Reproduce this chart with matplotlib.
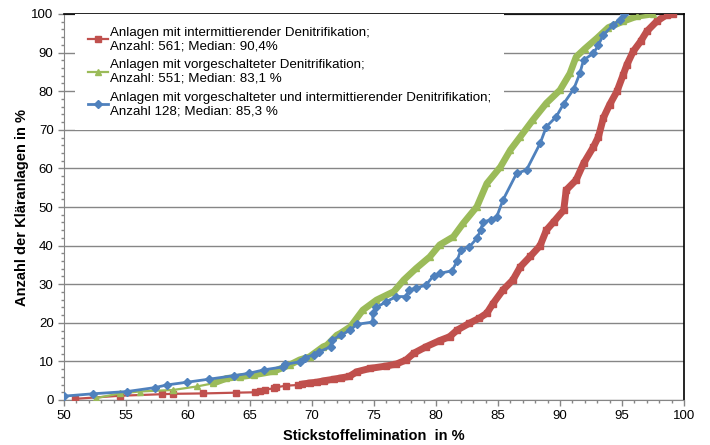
import matplotlib
matplotlib.use("Agg")
import matplotlib.pyplot as plt
from matplotlib.ticker import MultipleLocator

# (Stickstoffelimination in %, cumulative share in %)
x_int = [50.9, 54.5, 57.9, 58.8, 61.2, 63.9, 65.4, 65.8, 66.2, 66.9, 67.1, 67.9,
         68.9, 69.2, 69.8, 70.4, 71.0, 71.8, 72.3, 73.0, 73.6, 74.7, 76.0, 76.8,
         77.6, 78.2, 79.2, 80.3, 81.1, 81.7, 82.7, 83.5, 84.1, 84.6, 85.4, 86.2,
         86.8, 87.6, 88.4, 88.9, 89.5, 90.3, 90.5, 91.3, 91.9, 92.7, 93.1, 93.5,
         94.0, 94.6, 95.1, 95.4, 95.9, 96.5, 97.0, 97.8, 98.6, 99.1]
y_int = [0.3, 1.1, 1.5, 1.6, 1.7, 1.9, 2.0, 2.4, 2.7, 3.0, 3.3, 3.7,
         3.9, 4.1, 4.4, 4.6, 5.0, 5.4, 5.7, 6.1, 7.3, 8.2, 8.8, 9.3,
         10.4, 12.1, 13.8, 15.4, 16.4, 18.1, 19.9, 21.2, 22.5, 25.0, 28.5, 31.1,
         34.5, 37.2, 40.0, 44.0, 46.2, 49.2, 54.4, 57.0, 61.3, 65.6, 68.2, 73.1,
         76.5, 80.0, 84.3, 86.9, 90.3, 92.9, 95.5, 98.1, 99.8, 100.0]

x_vor = [52.6, 54.5, 56.1, 58.8, 60.7, 62.0, 63.1, 64.2, 65.3, 66.9, 68.2, 69.0,
         69.8, 70.9, 71.2, 72.0, 72.3, 73.1, 74.1, 75.2, 76.6, 77.4, 78.4, 79.5,
         80.3, 81.4, 82.2, 83.3, 84.1, 85.2, 86.0, 86.8, 87.8, 88.9, 90.0, 90.8,
         91.3, 92.0, 93.0, 93.9, 95.1, 96.2, 97.5]
y_vor = [0.5, 1.7, 2.2, 2.6, 3.5, 4.3, 5.6, 6.0, 6.5, 7.4, 9.1, 10.4,
         11.2, 13.8, 14.2, 16.8, 17.3, 19.0, 23.3, 25.9, 28.1, 31.1, 34.1, 37.1,
         40.2, 42.3, 45.8, 50.1, 56.1, 60.4, 64.8, 68.2, 72.5, 76.9, 80.3, 84.6,
         88.9, 91.0, 93.8, 96.5, 98.1, 99.4, 100.0]

x_both = [50.0, 52.3, 55.1, 57.3, 58.3, 59.9, 61.7, 63.7, 64.9, 66.1, 67.7, 67.8,
          69.0, 69.4, 70.2, 70.6, 71.5, 71.6, 72.3, 73.1, 73.6, 74.9, 74.9, 75.2,
          76.0, 76.8, 77.6, 77.8, 78.4, 79.2, 79.8, 80.3, 81.3, 81.7, 82.0, 82.7,
          83.3, 83.6, 83.8, 84.4, 84.9, 85.4, 86.5, 87.3, 88.4, 88.9, 89.7, 90.3,
          91.1, 91.6, 91.9, 92.7, 93.1, 93.5, 94.3, 94.8, 95.2]
y_both = [1.0, 1.6, 2.2, 3.2, 3.9, 4.6, 5.4, 6.3, 6.9, 7.8, 8.6, 9.2,
          9.9, 11.0, 11.7, 12.5, 13.8, 15.5, 16.8, 18.1, 19.6, 20.2, 22.5, 24.0,
          25.5, 26.8, 26.8, 28.5, 29.0, 29.8, 32.2, 32.8, 33.5, 36.0, 38.9, 39.7,
          41.9, 44.0, 46.2, 46.6, 47.5, 51.8, 58.7, 59.6, 66.5, 70.8, 73.4, 76.8,
          80.5, 84.6, 88.1, 89.8, 92.0, 94.6, 97.2, 98.4, 100.0]

labels = ["Anlagen mit intermittierender Denitrifikation;\nAnzahl: 561; Median: 90,4%",
          "Anlagen mit vorgeschalteter Denitrifikation;\nAnzahl: 551; Median: 83,1 %",
          "Anlagen mit vorgeschalteter und intermittierender Denitrifikation;\nAnzahl 128; Median: 85,3 %"]

red = "#C0504D"
green = "#9BBB59"
blue = "#4F81BD"

plt.rcParams["font.family"] = ["Liberation Sans", "DejaVu Sans"]
plt.rcParams["font.size"] = 9

fig = plt.figure(figsize=(7.1, 4.45), dpi=100)
ax = fig.add_axes([64 / 710, 1 - 400 / 445, 620 / 710, 386 / 445])

# dense part of the curves looks like a solid band in the original
def band(x, y, ymin, color, lw):
	xs = [a for a, b in zip(x, y) if b >= ymin]
	ys = [b for b in y if b >= ymin]
	ax.plot(xs, ys, color=color, lw=lw, solid_capstyle="round", zorder=2)

band(x_int, y_int, 4.0, red, 5.0)
ax.plot(x_int, y_int, color=red, lw=1.6, marker="s", ms=4.8, label=labels[0], zorder=3)
band(x_vor, y_vor, 4.0, green, 4.8)
ax.plot(x_vor, y_vor, color=green, lw=1.6, marker="^", ms=5, label=labels[1], zorder=3)
ax.plot(x_both, y_both, color=blue, lw=2.0, marker="D", ms=3.6, label=labels[2], zorder=4)

ax.set_xlim(50, 100)
ax.set_ylim(0, 100)
ax.xaxis.set_major_locator(MultipleLocator(5))
ax.xaxis.set_minor_locator(MultipleLocator(1))
ax.yaxis.set_major_locator(MultipleLocator(10))
ax.yaxis.set_minor_locator(MultipleLocator(2))
ax.tick_params(which="major", length=4, width=1, color="#868686", labelsize=9.5, colors="black")
ax.tick_params(which="minor", length=2.5, width=1, color="#868686")
ax.tick_params(axis="both", which="both", color="#868686")

ax.grid(axis="y", which="major", color="#868686", lw=1)
ax.set_axisbelow(True)
for s in ["left", "bottom"]:
	ax.spines[s].set_color("#868686")
for s in ["top", "right"]:
	ax.spines[s].set_color("black")
	ax.spines[s].set_linewidth(1.2)

ax.set_xlabel("Stickstoffelimination  in %", fontsize=10.5, fontweight="bold", labelpad=5)
ax.set_ylabel("Anzahl der Kläranlagen in %", fontsize=10.5, fontweight="bold", labelpad=2)

leg = ax.legend(loc="upper left", bbox_to_anchor=(11 / 620, 1.0), borderaxespad=0,
                frameon=True, fancybox=False, framealpha=1, facecolor="white",
                edgecolor="none", fontsize=9.6, handlelength=1.5, handletextpad=0.15,
                labelspacing=0.5, borderpad=0.95, numpoints=1)
leg.set_zorder(5)

plt.savefig("out.png", dpi=100)
